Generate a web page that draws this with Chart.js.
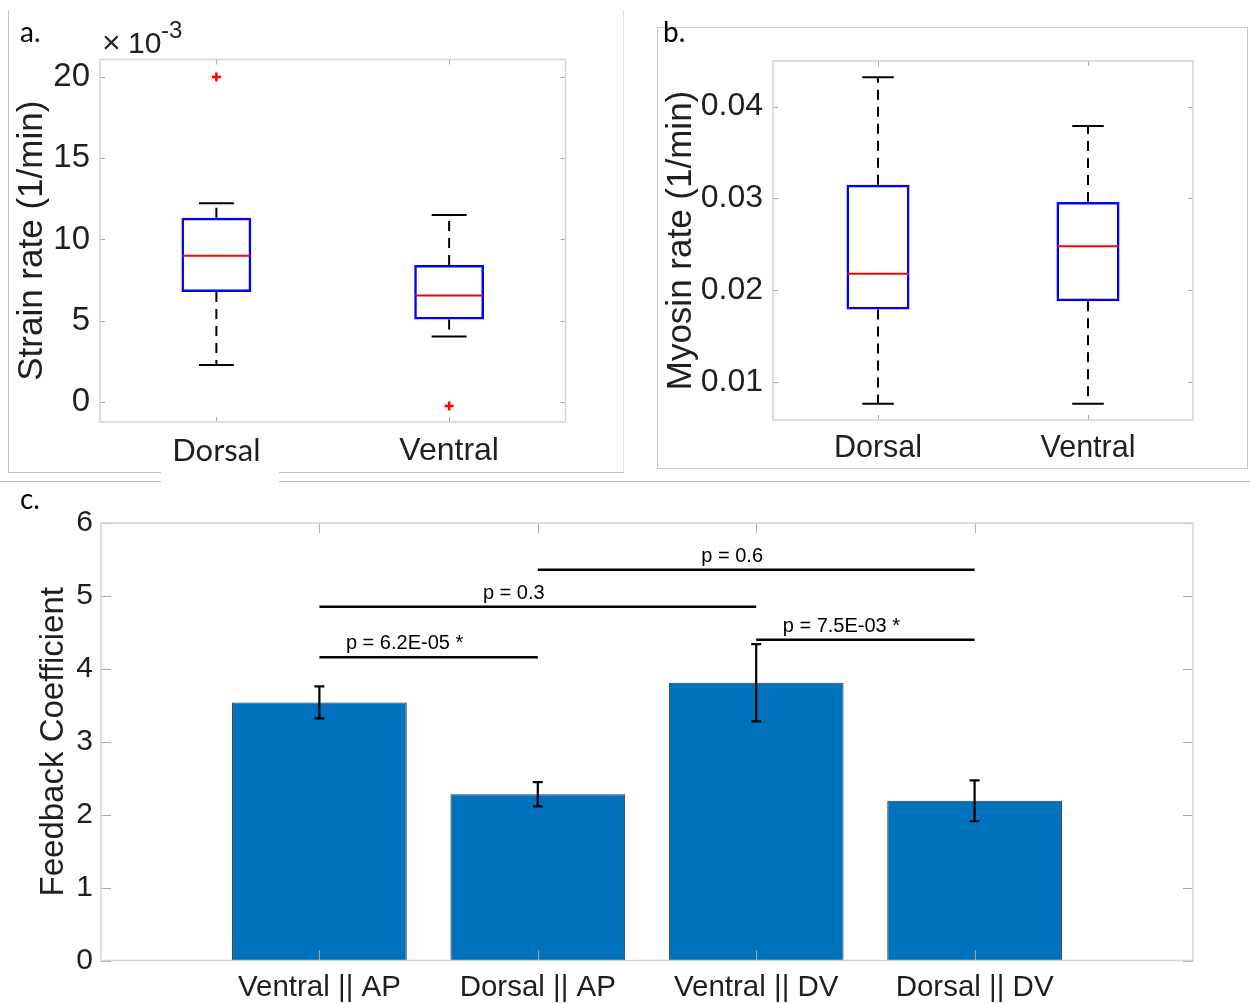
<!DOCTYPE html>
<html>
<head>
<meta charset="utf-8">
<script src="https://cdn.jsdelivr.net/npm/chart.js@4.4.1/dist/chart.umd.min.js"></script>
<style>
  html, body { margin: 0; padding: 0; background: #fff; }
  body { width: 1250px; height: 1004px; position: relative; overflow: hidden; }
  canvas { position: absolute; }
  .rule { position: absolute; background: #c4c4c4; }
  .tag { position: absolute; font-family: Lato, 'Open Sans', sans-serif; font-size: 28px; line-height: 28px; color: #000; }
</style>
</head>
<body>
<!-- panel frames -->
<div class="rule" style="left:8px;top:10px;width:1px;height:463px;"></div>
<div class="rule" style="left:623px;top:10px;width:1px;height:463px;background:#e2e2e2;"></div>
<div class="rule" style="left:8px;top:472px;width:153px;height:1px;"></div>
<div class="rule" style="left:279px;top:472px;width:345px;height:1px;"></div>
<div class="rule" style="left:0px;top:481px;width:161px;height:1px;background:#bcbcbc;"></div>
<div class="rule" style="left:279px;top:481px;width:971px;height:1px;background:#bcbcbc;"></div>
<div class="rule" style="left:657px;top:27px;width:591px;height:442px;background:transparent;border:1px solid #c8c8c8;box-sizing:border-box;"></div>

<canvas id="strain" width="640" height="480" style="left:0;top:0;"></canvas>
<canvas id="myosin" width="605" height="480" style="left:645px;top:0;"></canvas>
<canvas id="feedback" width="1250" height="521" style="left:0;top:483px;"></canvas>

<div class="tag" style="left:20px;top:17px;">a.</div>
<div class="tag" style="left:663px;top:17px;">b.</div>
<div class="tag" style="left:20px;top:484px;">c.</div>

<script>
// ---- a. strain rate box plots (1/min) ----
const boxGroups = ['Dorsal', 'Ventral'];
const strainWhiskerLow  = [0.00227, 0.00403];
const strainQ1          = [0.00676, 0.00507];
const strainMedian      = [0.00899, 0.00655];
const strainQ3          = [0.01134, 0.00843];
const strainWhiskerHigh = [0.01222, 0.01150];
const strainOutlierGroups = ['Dorsal', 'Ventral'];
const strainOutliers      = [0.0200, -0.00025];
const strainRange = [-0.00123, 0.02107];
const strainTicks = [0, 0.005, 0.010, 0.015, 0.020];

// ---- b. myosin rate box plots (1/min) ----
const myosinWhiskerLow  = [0.00764, 0.00764];
const myosinQ1          = [0.0179, 0.0188];
const myosinMedian      = [0.0218, 0.0248];
const myosinQ3          = [0.0315, 0.0296];
const myosinWhiskerHigh = [0.0432, 0.0379];
const myosinRange = [0.00586, 0.04497];
const myosinTicks = [0.01, 0.02, 0.03, 0.04];

// ---- c. feedback coefficients with standard errors ----
const feedbackGroups = ['Ventral || AP', 'Dorsal || AP', 'Ventral || DV', 'Dorsal || DV'];
const feedbackMeans  = [3.54, 2.28, 3.81, 2.19];
const feedbackErrors = [0.22, 0.165, 0.53, 0.28];
const feedbackTicks  = [0, 1, 2, 3, 4, 5, 6];
// pairwise comparisons (group indices), bracket heights and p-values
const compFrom   = [0, 0, 1, 2];
const compTo     = [1, 2, 3, 3];
const compLevel  = [4.16, 4.85, 5.36, 4.40];
const compLabels = ['p = 6.2E-05 *', 'p = 0.3', 'p = 0.6', 'p = 7.5E-03 *'];

const ink = '#1f1f1f';
const helv = "'Liberation Sans', Arimo, Helvetica, Arial, sans-serif";

// MATLAB-style axes: light box with inward tick marks on every side
function boxedAxes(tickLen) {
  return {
    id: 'boxedAxes',
    afterDatasetsDraw(chart) {
      const { ctx, chartArea: a, scales: { x, y } } = chart;
      ctx.save();
      ctx.strokeStyle = '#a9a9a9';
      ctx.lineWidth = 1;
      ctx.beginPath();
      x.ticks.forEach((t, i) => {
        const px = Math.round(x.getPixelForTick(i)) + 0.5;
        ctx.moveTo(px, a.bottom); ctx.lineTo(px, a.bottom - tickLen);
        ctx.moveTo(px, a.top);    ctx.lineTo(px, a.top + tickLen);
      });
      y.ticks.forEach((t, i) => {
        const py = Math.round(y.getPixelForTick(i)) + 0.5;
        ctx.moveTo(a.left, py);  ctx.lineTo(a.left + tickLen, py);
        ctx.moveTo(a.right, py); ctx.lineTo(a.right - tickLen, py);
      });
      ctx.stroke();
      ctx.strokeStyle = '#d4d4d4';
      ctx.lineWidth = 1.5;
      ctx.strokeRect(a.left, a.top, a.right - a.left, a.bottom - a.top);
      ctx.restore();
    }
  };
}

// whiskers (dashed, capped) and red medians on top of the box bars
function whiskers(low, median, high, q1, q3) {
  return {
    id: 'whiskers',
    afterDatasetsDraw(chart) {
      const { ctx, scales: { y } } = chart;
      const bars = chart.getDatasetMeta(0).data;
      ctx.save();
      bars.forEach((bar, i) => {
        const { x: cx, width } = bar.getProps(['x', 'width'], true);
        const half = width / 2, cap = width / 4;
        const yLo = y.getPixelForValue(low[i]), yHi = y.getPixelForValue(high[i]);
        const yQ1 = y.getPixelForValue(q1[i]), yQ3 = y.getPixelForValue(q3[i]);
        ctx.strokeStyle = '#000';
        ctx.lineWidth = 2;
        ctx.setLineDash([10, 7]);
        ctx.beginPath();
        ctx.moveTo(cx, yQ3); ctx.lineTo(cx, yHi);
        ctx.moveTo(cx, yQ1); ctx.lineTo(cx, yLo);
        ctx.stroke();
        ctx.setLineDash([]);
        ctx.beginPath();
        ctx.moveTo(cx - cap, yHi); ctx.lineTo(cx + cap, yHi);
        ctx.moveTo(cx - cap, yLo); ctx.lineTo(cx + cap, yLo);
        ctx.stroke();
        const yMed = y.getPixelForValue(median[i]);
        ctx.strokeStyle = '#ff0000';
        ctx.lineWidth = 2;
        ctx.beginPath();
        ctx.moveTo(cx - half + 1, yMed); ctx.lineTo(cx + half - 1, yMed);
        ctx.stroke();
      });
      ctx.restore();
    }
  };
}

// x10^-3 exponent label above the strain axis
const strainExponent = {
  id: 'strainExponent',
  afterDraw(chart) {
    const { ctx, chartArea: a } = chart;
    ctx.save();
    ctx.fillStyle = ink;
    ctx.textBaseline = 'alphabetic';
    ctx.textAlign = 'left';
    ctx.font = `32px ${helv}`;
    ctx.fillText('\u00d7', a.left + 2, a.top - 7);
    ctx.font = `30px ${helv}`;
    ctx.fillText('10', a.left + 28, a.top - 7);
    ctx.font = `24px ${helv}`;
    ctx.fillText('-3', a.left + 61, a.top - 22);
    ctx.restore();
  }
};

function boxChart(canvasId, opts) {
  return new Chart(document.getElementById(canvasId), {
    type: 'bar',
    data: {
      labels: boxGroups,
      datasets: [
        {
          data: boxGroups.map((_, i) => [opts.q1[i], opts.q3[i]]),
          backgroundColor: 'rgba(0,0,0,0)',
          borderColor: '#0000ff',
          borderWidth: 2.5,
          borderSkipped: false,
          barPercentage: 0.3,
          categoryPercentage: 1
        },
        ...(opts.outliers ? [{
          type: 'line',
          data: opts.outliers.map((v, i) => ({ x: opts.outlierGroups[i], y: v })),
          showLine: false,
          pointStyle: 'cross',
          pointRadius: 4.5,
          pointBorderWidth: 2.5,
          pointBorderColor: '#ff0000',
          borderColor: '#ff0000',
          backgroundColor: '#ff0000'
        }] : [])
      ]
    },
    options: {
      responsive: false,
      animation: false,
      devicePixelRatio: 1,
      layout: { padding: opts.padding },
      plugins: { legend: { display: false }, tooltip: { enabled: false } },
      scales: {
        x: {
          grid: { display: false, drawTicks: false },
          border: { display: false },
          ticks: {
            color: ink,
            padding: 10,
            autoSkip: false,
            maxRotation: 0,
            font: opts.xFont
          },
          afterFit: s => { s.height = opts.xHeight; }
        },
        y: {
          min: opts.range[0],
          max: opts.range[1],
          grid: { display: false, drawTicks: false },
          border: { display: false },
          afterBuildTicks: s => { s.ticks = opts.ticks.map(v => ({ value: v })); },
          ticks: {
            color: ink,
            padding: 10,
            font: { family: helv, size: opts.yTickSize },
            callback: opts.format
          },
          title: {
            display: true,
            text: opts.title,
            color: ink,
            font: { family: helv, size: opts.titleSize },
            padding: { top: opts.titlePad, bottom: 0 }
          },
          afterFit: s => { s.width = opts.yWidth; }
        }
      }
    },
    plugins: [whiskers(opts.low, opts.median, opts.high, opts.q1, opts.q3), boxedAxes(5)].concat(opts.extra || [])
  });
}

boxChart('strain', {
  q1: strainQ1, q3: strainQ3, low: strainWhiskerLow, high: strainWhiskerHigh, median: strainMedian,
  outliers: strainOutliers, outlierGroups: strainOutlierGroups,
  range: strainRange, ticks: strainTicks,
  format: v => String(Math.round(v * 1000)),
  title: 'Strain rate (1/min)', titleSize: 35, titlePad: 11,
  yTickSize: 33, yWidth: 100, xHeight: 58,
  padding: { top: 59.5, right: 74.5, left: 0, bottom: 0 },
  xFont: c => c.index === 0 ? { family: "Lato, 'Open Sans', sans-serif", size: 31 } : { family: helv, size: 32 },
  extra: [strainExponent]
});

boxChart('myosin', {
  q1: myosinQ1, q3: myosinQ3, low: myosinWhiskerLow, high: myosinWhiskerHigh, median: myosinMedian,
  range: myosinRange, ticks: myosinTicks,
  format: v => v.toFixed(2),
  title: 'Myosin rate (1/min)', titleSize: 35, titlePad: 15,
  yTickSize: 32, yWidth: 128, xHeight: 60,
  padding: { top: 61, right: 57, left: 0, bottom: 0 },
  xFont: { family: helv, size: 30.5 }
});

// error bars and significance brackets for the feedback bars
const feedbackMarks = {
  id: 'feedbackMarks',
  afterDatasetsDraw(chart) {
    const { ctx, scales: { x, y } } = chart;
    ctx.save();
    ctx.strokeStyle = '#000';
    ctx.lineWidth = 2.2;
    feedbackMeans.forEach((m, i) => {
      const px = x.getPixelForValue(i + 1);
      const top = y.getPixelForValue(m + feedbackErrors[i]);
      const bot = y.getPixelForValue(m - feedbackErrors[i]);
      ctx.beginPath();
      ctx.moveTo(px, top); ctx.lineTo(px, bot);
      ctx.moveTo(px - 5, top); ctx.lineTo(px + 5, top);
      ctx.moveTo(px - 5, bot); ctx.lineTo(px + 5, bot);
      ctx.stroke();
    });
    ctx.lineWidth = 2.5;
    ctx.fillStyle = '#000';
    ctx.font = `20px ${helv}`;
    ctx.textAlign = 'center';
    ctx.textBaseline = 'alphabetic';
    compFrom.forEach((a, k) => {
      const b = compTo[k];
      const x1 = x.getPixelForValue(a + 1), x2 = x.getPixelForValue(b + 1);
      const py = y.getPixelForValue(compLevel[k]);
      ctx.beginPath();
      ctx.moveTo(x1, py); ctx.lineTo(x2, py);
      ctx.stroke();
      ctx.fillText(compLabels[k], x.getPixelForValue((a + b) / 2 + 1 - 0.11), py - 8);
    });
    ctx.restore();
  }
};

new Chart(document.getElementById('feedback'), {
  type: 'bar',
  data: {
    datasets: [{
      data: feedbackMeans.map((v, i) => ({ x: i + 1, y: v })),
      backgroundColor: '#0072bd',
      borderColor: '#2b3a4a',
      borderWidth: 1,
      barPercentage: 0.8,
      categoryPercentage: 1
    }]
  },
  options: {
    responsive: false,
    animation: false,
    devicePixelRatio: 1,
    layout: { padding: { top: 40, right: 57, left: 0, bottom: 0 } },
    plugins: { legend: { display: false }, tooltip: { enabled: false } },
    scales: {
      x: {
        type: 'linear',
        min: 0,
        max: feedbackGroups.length + 1,
        offset: false,
        grid: { display: false, drawTicks: false, offset: false },
        border: { display: false },
        afterBuildTicks: s => { s.ticks = feedbackGroups.map((_, i) => ({ value: i + 1 })); },
        ticks: {
          color: ink,
          padding: 10,
          autoSkip: false,
          maxRotation: 0,
          font: { family: helv, size: 29.5 },
          callback: v => feedbackGroups[Math.round(v) - 1] || ''
        },
        afterFit: s => { s.height = 43.5; }
      },
      y: {
        min: 0,
        max: 6,
        grid: { display: false, drawTicks: false },
        border: { display: false },
        afterBuildTicks: s => { s.ticks = feedbackTicks.map(v => ({ value: v })); },
        ticks: {
          color: ink,
          padding: 8,
          font: { family: helv, size: 30 },
          callback: v => String(v)
        },
        title: {
          display: true,
          text: 'Feedback Coefficient',
          color: ink,
          font: { family: helv, size: 33 },
          padding: { top: 34, bottom: 0 }
        },
        afterFit: s => { s.width = 101; }
      }
    }
  },
  plugins: [feedbackMarks, boxedAxes(10)]
});
</script>
</body>
</html>
